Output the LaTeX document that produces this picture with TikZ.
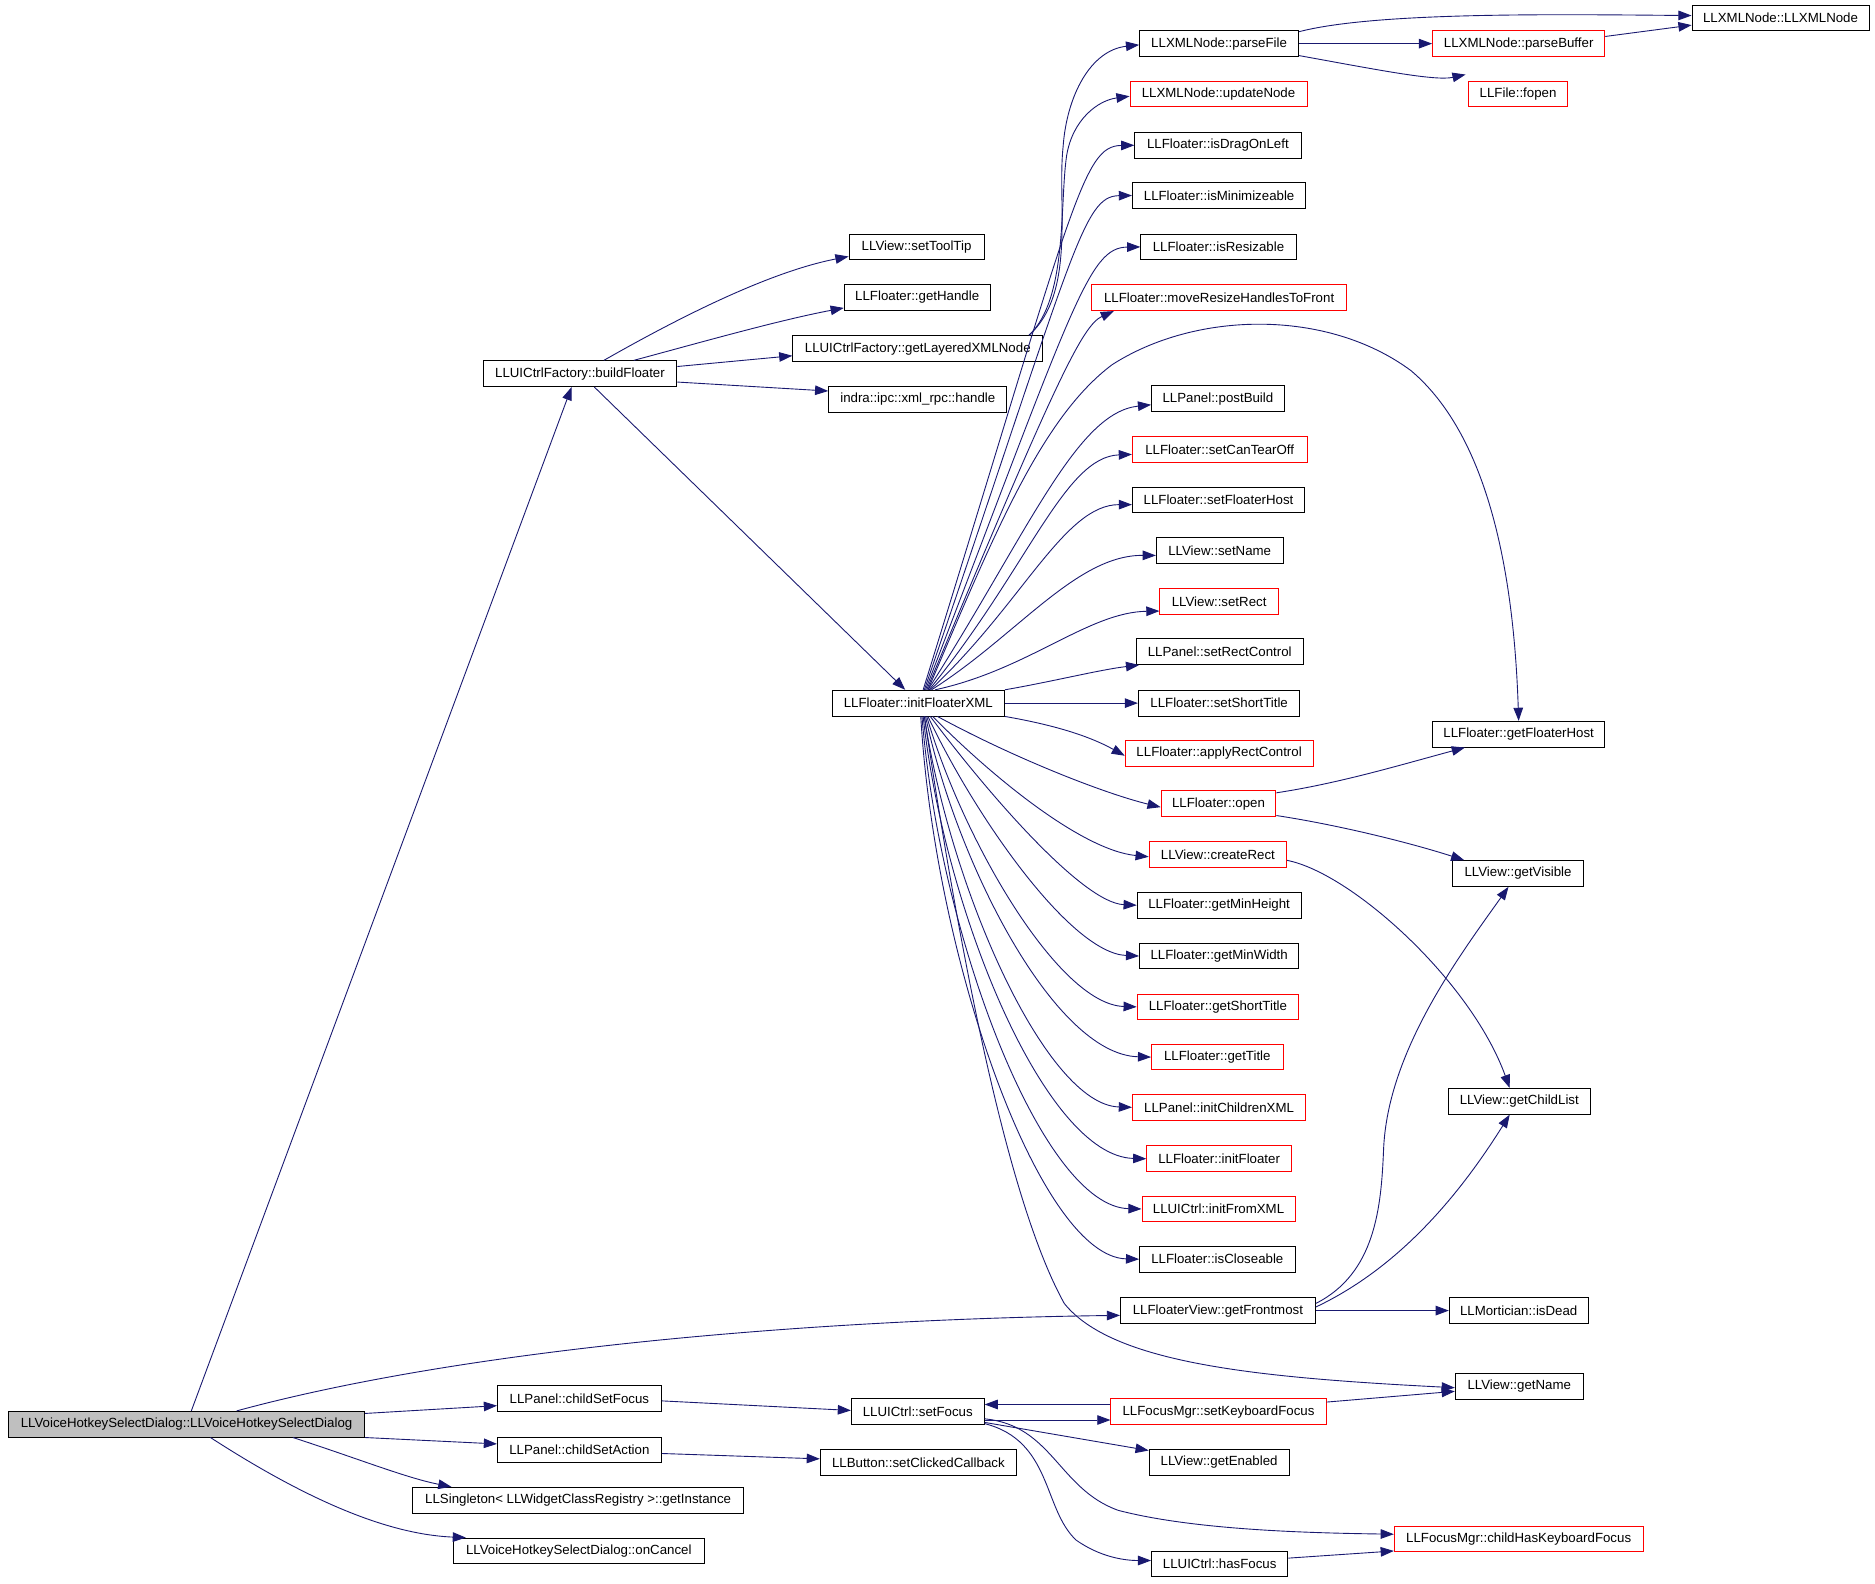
\documentclass[tikz,border=0pt]{standalone}
\usepackage{fontspec}
\setmainfont{Liberation Sans}
\usetikzlibrary{arrows.meta}
\definecolor{navy}{HTML}{191970}
\definecolor{rd}{HTML}{FF0000}
\tikzset{
  fn/.style={draw=black, fill=white, line width=0.8pt, inner sep=0pt, minimum height=21.5pt,
    font=\fontsize{11.1}{13}\selectfont, text=black},
  rn/.style={fn, draw=rd},
  mn/.style={fn, fill=black!25},
  e/.style={draw=navy, line width=0.75pt, -{Triangle[length=11pt,width=8pt]}, navy},
}
\begin{document}
\begin{tikzpicture}[x=1pt,y=-1pt]
\useasboundingbox (0,0) rectangle (1568,1324);
% left
\node[mn, minimum width=298pt] (main) at (156,1191) {LLVoiceHotkeySelectDialog::LLVoiceHotkeySelectDialog};
\node[fn, minimum width=162pt] (bf) at (485,312.5) {LLUICtrlFactory::buildFloater};
\node[fn, minimum width=113pt] (stt) at (766.5,206.5) {LLView::setToolTip};
\node[fn, minimum width=122pt] (gh) at (767,248.5) {LLFloater::getHandle};
\node[fn, minimum width=209pt] (glx) at (767.5,291.5) {LLUICtrlFactory::getLayeredXMLNode};
\node[fn, minimum width=149pt] (xrh) at (767.5,334) {indra::ipc::xml\_rpc::handle};
\node[fn, minimum width=144pt] (ifx) at (768,588) {LLFloater::initFloaterXML};
\node[fn, minimum width=137pt] (csf) at (484.5,1169.5) {LLPanel::childSetFocus};
\node[fn, minimum width=137pt] (csa) at (484.5,1212.5) {LLPanel::childSetAction};
\node[fn, minimum width=277pt] (gi) at (483.5,1254.5) {LLSingleton< LLWidgetClassRegistry >::getInstance};
\node[fn, minimum width=210pt] (oc) at (484,1297) {LLVoiceHotkeySelectDialog::onCancel};
\node[fn, minimum width=111pt] (sf) at (767.5,1180.5) {LLUICtrl::setFocus};
\node[fn, minimum width=164pt] (scc) at (768,1223) {LLButton::setClickedCallback};
% column 3
\node[fn, minimum width=133pt] (pf) at (1019.5,36.5) {LLXMLNode::parseFile};
\node[rn, minimum width=148pt] (un) at (1019,78.5) {LLXMLNode::updateNode};
\node[fn, minimum width=139pt] (idl) at (1018.5,121.5) {LLFloater::isDragOnLeft};
\node[fn, minimum width=145pt] (imz) at (1019.5,163.5) {LLFloater::isMinimizeable};
\node[fn, minimum width=130pt] (irz) at (1019,206.5) {LLFloater::isResizable};
\node[rn, minimum width=213pt] (mrh) at (1019.5,249) {LLFloater::moveResizeHandlesToFront};
\node[fn, minimum width=111pt] (pb) at (1018.5,333.5) {LLPanel::postBuild};
\node[rn, minimum width=146pt] (sct) at (1020,376) {LLFloater::setCanTearOff};
\node[fn, minimum width=144pt] (sfh) at (1019,418) {LLFloater::setFloaterHost};
\node[fn, minimum width=106pt] (sn) at (1020,460.5) {LLView::setName};
\node[rn, minimum width=99pt] (sr) at (1019.5,503) {LLView::setRect};
\node[fn, minimum width=140pt] (src) at (1020,545) {LLPanel::setRectControl};
\node[fn, minimum width=135pt] (sst) at (1019.5,588) {LLFloater::setShortTitle};
\node[rn, minimum width=157pt] (arc) at (1019.5,630) {LLFloater::applyRectControl};
\node[rn, minimum width=96pt] (op) at (1019,672) {LLFloater::open};
\node[rn, minimum width=115pt] (cr) at (1018.5,714.5) {LLView::createRect};
\node[fn, minimum width=137pt] (gmh) at (1019.5,757) {LLFloater::getMinHeight};
\node[fn, minimum width=133pt] (gmw) at (1019.5,799.5) {LLFloater::getMinWidth};
\node[rn, minimum width=135pt] (gst) at (1018.5,842) {LLFloater::getShortTitle};
\node[rn, minimum width=110pt] (gt) at (1018,884) {LLFloater::getTitle};
\node[rn, minimum width=145pt] (icx) at (1019.5,926) {LLPanel::initChildrenXML};
\node[rn, minimum width=121pt] (iff) at (1019.5,969) {LLFloater::initFloater};
\node[rn, minimum width=128pt] (ifm) at (1019,1011) {LLUICtrl::initFromXML};
\node[fn, minimum width=130pt] (ic) at (1018,1053) {LLFloater::isCloseable};
\node[fn, minimum width=163pt] (gfm) at (1018.5,1096) {LLFloaterView::getFrontmost};
\node[rn, minimum width=180pt] (skf) at (1019,1180.5) {LLFocusMgr::setKeyboardFocus};
\node[fn, minimum width=117pt] (ge) at (1019.5,1223) {LLView::getEnabled};
\node[fn, minimum width=114pt] (hf) at (1020,1308) {LLUICtrl::hasFocus};
% column 4
\node[rn, minimum width=144pt] (pbuf) at (1270,36.5) {LLXMLNode::parseBuffer};
\node[rn, minimum width=83pt] (fo) at (1269.5,78.5) {LLFile::fopen};
\node[fn, minimum width=144pt] (gfh) at (1270,614) {LLFloater::getFloaterHost};
\node[fn, minimum width=109pt] (gv) at (1269.5,730.5) {LLView::getVisible};
\node[fn, minimum width=119pt] (gcl) at (1270.5,921) {LLView::getChildList};
\node[fn, minimum width=116pt] (md) at (1270,1096) {LLMortician::isDead};
\node[fn, minimum width=107pt] (gn) at (1270.5,1159.5) {LLView::getName};
\node[rn, minimum width=208pt] (chk) at (1270,1287) {LLFocusMgr::childHasKeyboardFocus};
% column 5
\node[fn, minimum width=148pt] (xn) at (1489,15) {LLXMLNode::LLXMLNode};

% edges from main
\draw[e] ([xshift=4pt]main.north) -- ([xshift=-7pt]bf.south);
\draw[e] ([xshift=42pt]main.north) .. controls (400,1125) and (700,1103) .. ([yshift=-4pt]gfm.west);
\draw[e] ([yshift=9pt]main.east) -- ([yshift=-6pt]csf.west);
\draw[e] (main.south east) -- ([yshift=5pt]csa.west);
\draw[e] ([xshift=89pt]main.south) .. controls (300,1220) and (340,1236) .. ([xshift=-106pt]gi.north);
\draw[e] ([xshift=20pt]main.south) .. controls (250,1250) and (320,1283) .. ([xshift=11pt]oc.north west);
% buildFloater
\draw[e] ([xshift=20pt]bf.north) .. controls (560,270) and (640,228) .. ([yshift=-8pt]stt.west);
\draw[e] ([xshift=45pt]bf.north) .. controls (580,288) and (650,268) .. ([yshift=-9pt]gh.west);
\draw[e] ([yshift=6pt]bf.east) -- ([yshift=-6pt]glx.west);
\draw[e] ([yshift=-7pt]bf.east) -- ([yshift=7pt]xrh.west);
\draw[e] ([xshift=12pt]bf.south) -- ([xshift=-11pt]ifx.north);
% getLayeredXMLNode
\draw[e] ([xshift=93pt]glx.north) .. controls (900,245) and (884,170) .. (889,123) .. controls (892,80) and (912,42) .. ([yshift=-1pt]pf.west);
\draw[e] ([xshift=93pt]glx.north) .. controls (893,250) and (886,170) .. (892,130) .. controls (897,100) and (918,84) .. ([yshift=-2pt]un.west);
% initFloaterXML upward
\draw[e] ([xshift=4pt]ifx.north) .. controls (898,170) and (905,122) .. (idl.west);
\draw[e] ([xshift=5pt]ifx.north) .. controls (898,212) and (905,164) .. (imz.west);
\draw[e] ([xshift=6pt]ifx.north) .. controls (898,254) and (910,207) .. (irz.west);
\draw[e] ([xshift=7pt]ifx.north) .. controls (882,320) and (905,272) .. ([xshift=-88pt]mrh.south);
\draw[e] ([xshift=8pt]ifx.north) .. controls (830,450) and (870,350) .. (930,305) .. controls (1000,260) and (1110,258) .. (1180,310) .. controls (1245,365) and (1266,480) .. (gfh.north);
\draw[e] ([xshift=8pt]ifx.north) .. controls (860,445) and (900,345) .. ([yshift=-5pt]pb.west);
\draw[e] ([xshift=9pt]ifx.north) .. controls (860,475) and (890,382) .. ([yshift=-4pt]sct.west);
\draw[e] ([xshift=10pt]ifx.north) .. controls (855,505) and (890,422) .. ([yshift=-4pt]sfh.west);
\draw[e] ([xshift=11pt]ifx.north) .. controls (850,532) and (900,464) .. ([yshift=-4pt]sn.west);
\draw[e] ([xshift=14pt]ifx.north) .. controls (860,560) and (910,512) .. ([yshift=-8pt]sr.west);
\draw[e] (ifx.north east) .. controls (880,570) and (920,560) .. ([xshift=3pt]src.south west);
\draw[e] (ifx.east) -- (sst.west);
\draw[e] (ifx.south east) .. controls (880,606) and (910,615) .. ([yshift=-2pt]arc.west);
% initFloaterXML downward
\draw[e] ([xshift=16pt]ifx.south) .. controls (850,635) and (925,664) .. ([yshift=-3pt]op.west);
\draw[e] ([xshift=12pt]ifx.south) .. controls (830,650) and (905,711) .. ([yshift=-2pt]cr.west);
\draw[e] ([xshift=10pt]ifx.south) .. controls (825,662) and (905,755) .. (gmh.west);
\draw[e] ([xshift=8pt]ifx.south) .. controls (815,682) and (895,797) .. (gmw.west);
\draw[e] ([xshift=7pt]ifx.south) .. controls (805,702) and (885,840) .. (gst.west);
\draw[e] ([xshift=6pt]ifx.south) .. controls (800,722) and (882,882) .. (gt.west);
\draw[e] ([xshift=5pt]ifx.south) .. controls (795,745) and (875,924) .. (icx.west);
\draw[e] ([xshift=4pt]ifx.south) .. controls (790,765) and (875,967) .. (iff.west);
\draw[e] ([xshift=3pt]ifx.south) .. controls (786,785) and (872,1009) .. (ifm.west);
\draw[e] ([xshift=2pt]ifx.south) .. controls (782,805) and (870,1051) .. (ic.west);
\draw[e] ([xshift=5pt]ifx.south) .. controls (800,780) and (840,1000) .. (890,1090) .. controls (930,1140) and (1050,1152) .. ([yshift=-1pt]gn.west);
% column 3 to 4
\draw[e] ([yshift=10pt]pf.east) .. controls (1150,10) and (1300,12) .. ([yshift=2pt]xn.west);
\draw[e] (pf.east) -- (pbuf.west);
\draw[e] ([yshift=-10pt]pf.east) .. controls (1150,58) and (1200,68) .. ([xshift=-2pt,yshift=5pt]fo.north west);
\draw[e] ([yshift=6pt]pbuf.east) -- ([yshift=-6pt]xn.west);
\draw[e] ([yshift=9pt]op.east) .. controls (1120,655) and (1170,640) .. ([xshift=-45pt]gfh.south);
\draw[e] ([yshift=-10pt]op.east) .. controls (1120,690) and (1180,705) .. ([xshift=-45pt]gv.north);
\draw[e] ([yshift=-5pt]cr.east) .. controls (1130,730) and (1230,820) .. ([xshift=-8pt]gcl.north);
\draw[e] ([yshift=6pt]gfm.east) .. controls (1150,1065) and (1155,1010) .. (1157,962) .. controls (1160,880) and (1220,800) .. ([xshift=-8pt]gv.south);
\draw[e] ([yshift=3pt]gfm.east) .. controls (1170,1060) and (1220,1000) .. ([xshift=-8pt]gcl.south);
\draw[e] (gfm.east) -- (md.west);
% bottom
\draw[e] ([yshift=-2pt]csf.east) -- ([yshift=1pt]sf.west);
\draw[e] ([yshift=-3pt]csa.east) -- ([yshift=3pt]scc.west);
\draw[e] ([yshift=-7pt]sf.east) -- ([yshift=-7pt]skf.west);
\draw[e] ([yshift=6pt]skf.west) -- ([yshift=6pt]sf.east);
\draw[e] ([yshift=8pt]skf.east) -- ([yshift=-4pt]gn.west);
\draw[e] ([yshift=-9pt]sf.east) -- ([yshift=10pt]ge.west);
\draw[e] ([yshift=-6pt]sf.east) .. controls (880,1192) and (885,1245) .. (935,1263) .. controls (1000,1280) and (1100,1282) .. ([yshift=4pt]chk.west);
\draw[e] ([yshift=-10pt]sf.east) .. controls (880,1205) and (872,1262) .. (900,1288) .. controls (920,1302) and (940,1305) .. ([yshift=3pt]hf.west);
\draw[e] ([yshift=5pt]hf.east) -- ([yshift=-10pt]chk.west);
\end{tikzpicture}
\end{document}
